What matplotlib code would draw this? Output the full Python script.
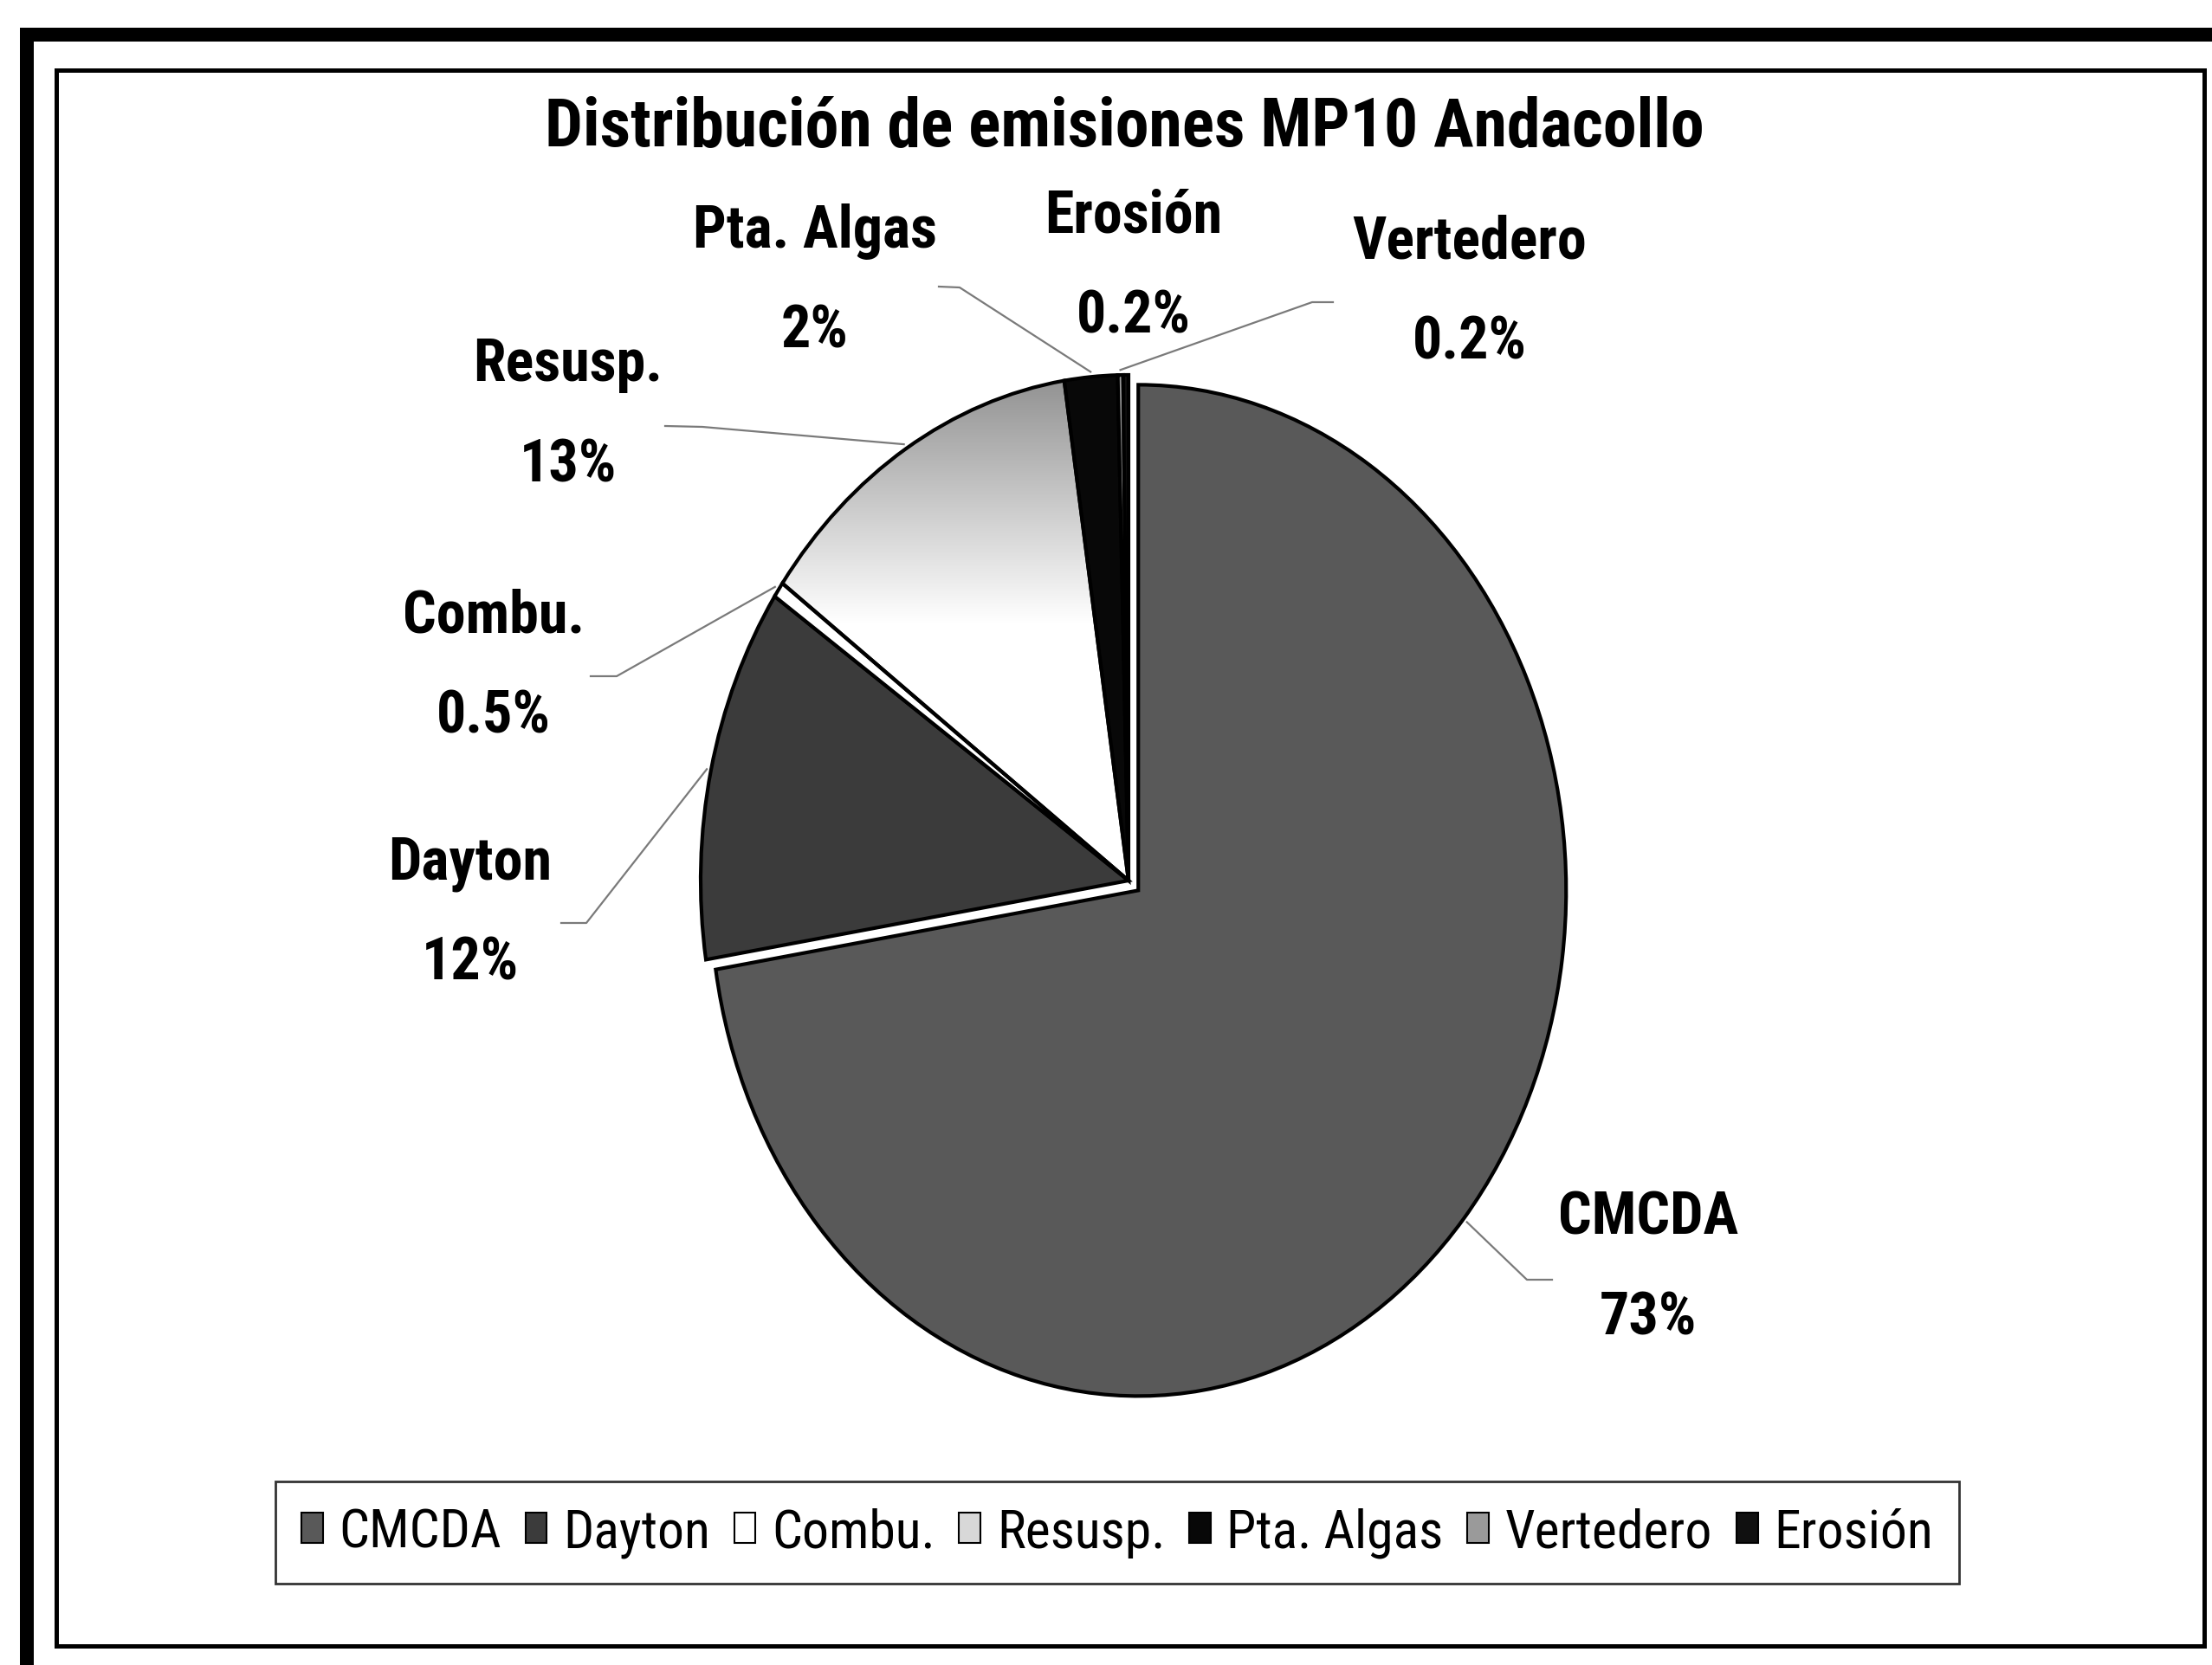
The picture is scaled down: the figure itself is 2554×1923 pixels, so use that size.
import numpy as np
import matplotlib.pyplot as plt
from matplotlib import font_manager as fm
from matplotlib.patches import Patch, Rectangle
from matplotlib.colors import LinearSegmentedColormap

W, H = 2554, 1924

labels = ["CMCDA", "Dayton", "Combu.", "Resusp.", "Pta. Algas", "Vertedero", "Erosión"]
values = [72.5, 12.0, 0.5, 12.6, 2.0, 0.2, 0.2]
pct_text = ["73%", "12%", "0.5%", "13%", "2%", "0.2%", "0.2%"]
colors = ["#595959", "#3b3b3b", "#ffffff", "#d8d8d8", "#080808", "#9a9a9a", "#101010"]
explode = [0.03, 0, 0, 0, 0, 0, 0]

title = "Distribución de emisiones MP10 Andacollo"

# layout in pixels (origin top-left)
cx, cy = 1303, 1018
rx, ry = 494, 584
name_pos = [(1903, 1407), (543, 997), (570, 712), (656, 422),
            (941, 267), (1697, 280), (1309, 250)]
line_gap = 116
# leader lines: (end near label, knee)
leaders = [((1792, 1479), (1763, 1479)), ((648, 1067), (677, 1067)),
           ((682, 782), (712, 782)), ((768, 493), (811, 494)),
           ((1084, 332), (1108, 333)), ((1539, 350), (1515, 350)), None]

# pick a narrow font if one is installed
avail = {f.name for f in fm.fontManager.ttflist}
narrow = [n for n in ['Liberation Sans Narrow', 'Arial Narrow', 'Roboto Condensed']
          if n in avail]
if narrow:
    fnt = [narrow[0], 'Liberation Sans', 'DejaVu Sans']
    fs_title, fs_lab, fs_leg = 56, 49, 44.5
else:
    fnt = ['Liberation Sans', 'DejaVu Sans']
    fs_title, fs_lab, fs_leg = 47, 41, 40

fig = plt.figure(figsize=(W / 100, H / 100), dpi=100)
fig.patch.set_facecolor('white')

# overlay in pixel coords
ov = fig.add_axes([0, 0, 1, 1])
ov.set_xlim(0, W)
ov.set_ylim(H, 0)
ov.axis('off')

# outer thick frame (top and left) and inner chart frame
ov.plot([W, 30.5, 30.5], [41, 41, H], color='black', lw=16 * 0.72,
        solid_joinstyle='miter', solid_capstyle='butt')
ov.add_patch(Rectangle((64.5, 81.5), 2480, 1820, fill=False,
                       edgecolor='black', lw=5 * 0.72, joinstyle='miter'))

ov.text(1298, 147, title, ha='center', va='center', fontsize=fs_title,
        fontweight='bold', family=fnt)

# pie axes, stretched vertically
pad = 1.2
axp = fig.add_axes([(cx - pad * rx) / W, (H - cy - pad * ry) / H,
                    2 * pad * rx / W, 2 * pad * ry / H])
wedges, _ = axp.pie(values, colors=colors, explode=explode, startangle=90,
                    counterclock=False,
                    wedgeprops=dict(edgecolor='black', linewidth=3))
axp.set_aspect('auto')
axp.axis('off')

# gradient fill for Resusp.
grad_cmap = LinearSegmentedColormap.from_list('g', ['#ffffff', '#ffffff', '#8c8c8c'])
wedges[3].set_facecolor('none')
grad = np.linspace(0, 1, 256)[:, None]
im = axp.imshow(grad, cmap=grad_cmap, origin='lower', aspect='auto',
                extent=(-1.0, 0.2, 0.0, 1.02), zorder=0.5)
im.set_clip_path(wedges[3])
axp.set_xlim(-pad, pad)
axp.set_ylim(-pad, pad)

# labels and leader lines
for i, w in enumerate(wedges):
    nx, ny = name_pos[i]
    ov.text(nx, ny, labels[i], ha='center', va='center', fontsize=fs_lab,
            fontweight='bold', family=fnt)
    ov.text(nx, ny + line_gap, pct_text[i], ha='center', va='center',
            fontsize=fs_lab, fontweight='bold', family=fnt)
    if leaders[i] is None:
        continue
    mid = np.deg2rad((w.theta1 + w.theta2) / 2)
    ux = w.center[0] + 1.01 * np.cos(mid)
    uy = w.center[1] + 1.01 * np.sin(mid)
    px, py = cx + ux * rx, cy - uy * ry
    (ex, ey), (kx, ky) = leaders[i]
    ov.plot([ex, kx, px], [ey, ky, py], color='#7a7a7a', lw=1.6)

handles = [Patch(facecolor=c, edgecolor='black', lw=1.5) for c in colors]
leg = fig.legend(handles, labels, ncol=7, loc='center',
                 bbox_to_anchor=(1290 / W, 1 - 1771 / H),
                 prop={'family': fnt, 'size': fs_leg}, frameon=True,
                 fancybox=False, edgecolor='#333333', framealpha=1,
                 handlelength=0.4, handleheight=0.5, handletextpad=0.3,
                 columnspacing=0.45, borderpad=0.48)
leg.get_frame().set_linewidth(2)

fig.savefig('out.png', dpi=100, facecolor='white')
